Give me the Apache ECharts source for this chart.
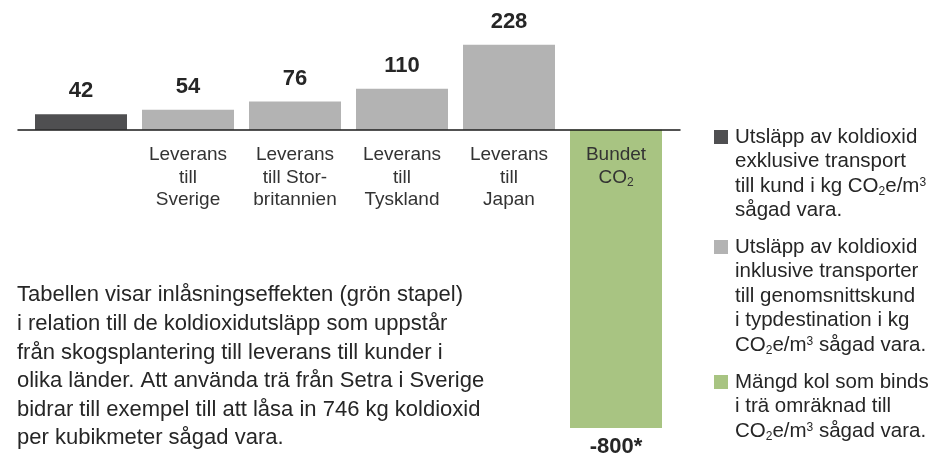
<!DOCTYPE html>
<html>
<head>
<meta charset="utf-8">
<script src="https://cdn.jsdelivr.net/npm/echarts@6/dist/echarts.min.js"></script>
<style>
html,body{margin:0;padding:0;background:#fff;}
#c{width:936px;height:456px;}
</style>
</head>
<body>
<div id="c"></div>
<script>
const categories = ['', 'Leverans\ntill\nSverige', 'Leverans\ntill Stor-\nbritannien', 'Leverans\ntill\nTyskland', 'Leverans\ntill\nJapan', 'Bundet\nCO₂'];
const exclValues = [42, null, null, null, null, null];
const inclValues = [null, 54, 76, 110, 228, null];
const boundValues = [null, null, null, null, null, -800];
const legendTexts = [
  'Utsläpp av koldioxid\nexklusive transport\ntill kund i kg CO{sub|2}e/m{sup|3}\nsågad vara.',
  'Utsläpp av koldioxid\ninklusive transporter\ntill genomsnittskund\ni typdestination i kg\nCO{sub|2}e/m{sup|3} sågad vara.',
  'Mängd kol som binds\ni trä omräknad till\nCO{sub|2}e/m{sup|3} sågad vara.'
];
const bodyText = 'Tabellen visar inlåsningseffekten (grön stapel)\ni relation till de koldioxidutsläpp som uppstår\nfrån skogsplantering till leverans till kunder i\nolika länder. Att använda trä från Setra i Sverige\nbidrar till exempel till att låsa in 746 kg koldioxid\nper kubikmeter sågad vara.';

const FONT = "'Liberation Sans', Arial, sans-serif";
const C_DARK = '#4f4f51', C_GRAY = '#b3b3b3', C_GREEN = '#a8c482', C_TEXT = '#262626';

const chart = echarts.init(document.getElementById('c'));

const valueLabel = {
  show: true, position: 'top', distance: 12,
  fontFamily: FONT, fontSize: 22, fontWeight: 'bold', color: C_TEXT
};

const LH = 24.5;
const richLegend = {
  sub: {fontFamily: FONT, fontSize: 12, color: C_TEXT, verticalAlign: 'bottom', lineHeight: LH, padding:[0,0,1,0]},
  sup: {fontFamily: FONT, fontSize: 12, color: C_TEXT, verticalAlign: 'top', lineHeight: LH, padding:[3,0,0,0]}
};
const legendColors = [C_DARK, C_GRAY, C_GREEN];
const legendTops = [137, 247, 382];
const graphics = [];
legendTexts.forEach((t, i) => {
  graphics.push({type: 'rect', left: 714, top: legendTops[i] - 7, shape: {width: 14, height: 14}, style: {fill: legendColors[i]}, silent: true});
  graphics.push({type: 'text', left: 735, top: legendTops[i] - LH / 2,
    style: {text: t, fontFamily: FONT, fontSize: 20.5, lineHeight: LH, fill: C_TEXT, rich: richLegend}, silent: true});
});
graphics.push({type: 'text', left: 17, top: 281,
  style: {text: bodyText, fontFamily: FONT, fontSize: 22, lineHeight: 28.6, fill: C_TEXT}, silent: true});

const gridBase = {top: 18, bottom: 28, outerBoundsMode: 'none', containLabel: false};
chart.setOption({
  animation: false,
  backgroundColor: '#fff',
  grid: [
    Object.assign({left: 27.5, right: 266.5}, gridBase),
    Object.assign({left: 18, right: 256}, gridBase),
    {left: 27.5, right: 266.5, top: 18, bottom: 326, outerBoundsMode: 'none', containLabel: false}
  ],
  xAxis: [
    {type: 'category', gridIndex: 0, data: categories, show: false},
    {type: 'value', gridIndex: 1, min: 0, max: 1, z: 10,
     axisLine: {show: true, onZero: true, lineStyle: {color: '#1a1a1a', width: 1.5}},
     axisTick: {show: false}, axisLabel: {show: false}, splitLine: {show: false}},
    {type: 'category', gridIndex: 2, data: categories, z: 10, position: 'bottom',
     axisLine: {show: false, onZero: false}, axisTick: {show: false},
     axisLabel: {interval: 0, margin: 14, fontFamily: FONT, fontSize: 19, lineHeight: 22.5, color: '#333',
       formatter: v => v.replace('CO₂', '{a|CO}{s|2}'),
       rich: {
         a: {fontFamily: FONT, fontSize: 19, lineHeight: 22.5, color: '#333'},
         s: {fontFamily: FONT, fontSize: 12, lineHeight: 22.5, color: '#333', verticalAlign: 'bottom'}
       }}}
  ],
  yAxis: [
    {type: 'value', gridIndex: 0, min: -800, max: 300, show: false, splitLine: {show: false}},
    {type: 'value', gridIndex: 1, min: -800, max: 300, show: false, splitLine: {show: false}},
    {type: 'value', gridIndex: 2, min: 0, max: 1, show: false, splitLine: {show: false}}
  ],
  series: [
    {name: 'Utsläpp exklusive transport', type: 'bar', data: exclValues, barWidth: 92, barGap: '-100%',
     itemStyle: {color: C_DARK}, label: valueLabel},
    {name: 'Utsläpp inklusive transporter', type: 'bar', data: inclValues, barWidth: 92, barGap: '-100%',
     itemStyle: {color: C_GRAY}, label: valueLabel},
    {name: 'Mängd kol som binds', type: 'bar', data: boundValues, barWidth: 92, barGap: '-100%',
     itemStyle: {color: C_GREEN},
     label: Object.assign({}, valueLabel, {position: 'bottom', distance: 8, formatter: p => p.value + '*'})}
  ],
  graphic: graphics
});
</script>
</body>
</html>
